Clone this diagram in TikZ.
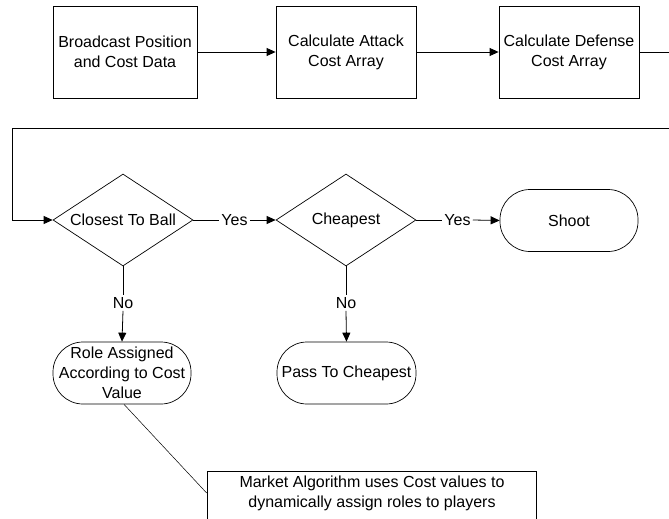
\documentclass[tikz,border=0pt]{standalone}
\usepackage{fontspec}
\setmainfont{Liberation Sans}
\usetikzlibrary{shapes.geometric,arrows.meta,calc}
\tikzset{
  every node/.style={font=\fontsize{16}{20}\selectfont},
  procbox/.style={draw, line width=0.8pt, align=center, inner sep=1pt, minimum height=92pt},
  decbox/.style={draw, diamond, line width=0.7pt, inner sep=0pt, aspect=1.52, minimum width=140pt, minimum height=92pt},
  termbox/.style={draw, rectangle, rounded corners=30pt, line width=0.7pt, align=center, inner sep=1pt, minimum width=138pt, minimum height=62pt},
  lbl/.style={inner sep=2pt},
  conn/.style={line width=0.8pt},
  arr/.style={conn, -{Triangle[length=9pt,width=8pt]}},
}
\begin{document}
\begin{tikzpicture}[x=1pt,y=-1pt]
\useasboundingbox (0,0) rectangle (669,519);
\clip (0,0) rectangle (669,519);
% top row
\node[procbox, minimum width=144pt] (b1) at (125,52) {Broadcast Position\\and Cost Data};
\node[procbox, minimum width=140pt] (b2) at (346,52) {Calculate Attack\\Cost Array};
\node[procbox, minimum width=140pt] (b3) at (569,52) {Calculate Defense\\Cost Array};
% decisions
\node[decbox] (d1) at (123,220) {Closest To Ball};
\node[decbox] (d2) at (346,220) {Cheapest};
\node[termbox] (shoot) at (569,220.5) {Shoot};
% labels
\node[lbl] (yes1) at (234.5,220) {Yes};
\node[lbl] (yes2) at (457.5,220) {Yes};
\node[lbl] (no1) at (123,303) {No};
\node[lbl] (no2) at (346,303) {No};
% terminals
\node[termbox] (role) at (122,373) {Role Assigned\\According to Cost\\Value};
\node[termbox, minimum width=139pt] (pass) at (346.5,373) {Pass To Cheapest};
% note
\node[draw, line width=0.7pt, minimum width=329pt, minimum height=70pt] (note) at (371.5,506) {};
\node[align=center, inner sep=0pt] (notetext) at (372,493) {Market Algorithm uses Cost values to\\dynamically assign roles to players};
% loop-back route
\coordinate (r1) at (690,52);
\coordinate (r2) at (690,128);
\coordinate (l1) at (12,128);
\coordinate (l2) at (12,220);
% connectors
\draw[arr] (b1.east) -- (b2.west);
\draw[arr] (b2.east) -- (b3.west);
\draw[arr] (b3.east) -- (r1) -- (r2) -- (l1) -- (l2) -- (d1.west);
\draw[conn] (d1.east) -- (yes1.west);
\draw[arr] (yes1.east) -- (d2.west);
\draw[conn] (d2.east) -- (yes2.west);
\draw[arr] (yes2.east) -- (shoot.west);
\draw[conn] (d1.south) -- (no1.north);
\draw[arr] (no1.south) -- (role.north);
\draw[conn] (d2.south) -- (no2.north);
\draw[arr] (no2.south) -- (pass.north);
\draw[line width=0.5pt] ([xshift=2pt]role.south) -- (note.west |- notetext);
\end{tikzpicture}
\end{document}
